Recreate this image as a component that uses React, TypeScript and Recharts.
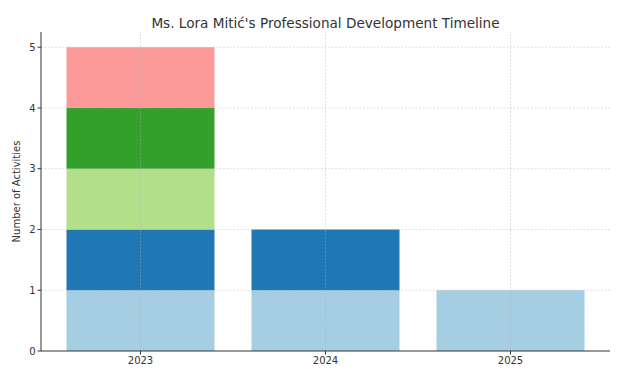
import React from 'react';
import { BarChart, Bar, XAxis, YAxis, ReferenceLine } from 'recharts';

const years = ['2023', '2024', '2025'];
// each stacked segment is one activity
const activity1 = [1, 1, 1];
const activity2 = [1, 1, 0];
const activity3 = [1, 0, 0];
const activity4 = [1, 0, 0];
const activity5 = [1, 0, 0];
const yTicks = [0, 1, 2, 3, 4, 5];

const seriesKeys = ['a1', 'a2', 'a3', 'a4', 'a5'];
const colors = ['#a6cee3', '#1f78b4', '#b2df8a', '#33a02c', '#fb9a99'];

const data = years.map((year, i) => ({
  year,
  a1: activity1[i],
  a2: activity2[i],
  a3: activity3[i],
  a4: activity4[i],
  a5: activity5[i],
}));

const font = "'DejaVu Sans', sans-serif";
const tickStyle = { fontSize: 10, fill: '#333', fontFamily: font };
const gridColor = '#b0b0b0';

const App: React.FC = () => {
  return (
    <div style={{ position: 'fixed', left: 0, top: 0, width: 632, height: 370, background: '#fff' }}>
      <div
        style={{
          position: 'absolute',
          left: 41,
          width: 569,
          top: 15,
          textAlign: 'center',
          fontFamily: font,
          fontSize: 13.6,
          color: '#333',
        }}
      >
        Ms. Lora Mitić's Professional Development Timeline
      </div>
      <BarChart
        width={632}
        height={370}
        data={data}
        margin={{ top: 32, right: 22, left: 0, bottom: 0 }}
        barCategoryGap="10%"
      >
        <XAxis
          dataKey="year"
          padding={{ left: 7, right: 7 }}
          height={19}
          tick={tickStyle}
          tickSize={3.5}
          tickMargin={2}
          stroke="#333"
          axisLine={{ stroke: '#333' }}
          tickLine={{ stroke: '#333' }}
        />
        <YAxis
          width={41}
          domain={[0, 5.25]}
          ticks={yTicks}
          allowDataOverflow
          tick={tickStyle}
          tickSize={3.5}
          tickMargin={2}
          stroke="#333"
          label={{
            value: 'Number of Activities',
            angle: -90,
            position: 'insideLeft',
            offset: 16,
            style: { fontSize: 10, fill: '#333', fontFamily: font, textAnchor: 'middle' },
          }}
        />
        {seriesKeys.map((key, i) => (
          <Bar key={key} dataKey={key} stackId="s" fill={colors[i]} isAnimationActive={false} />
        ))}
        {yTicks.slice(1).map((t) => (
          <ReferenceLine key={'y' + t} y={t} stroke={gridColor} strokeOpacity={0.5} strokeDasharray="2 1.5" strokeWidth={0.8} />
        ))}
        {years.map((y) => (
          <ReferenceLine key={'x' + y} x={y} stroke={gridColor} strokeOpacity={0.5} strokeDasharray="2 1.5" strokeWidth={0.8} />
        ))}
      </BarChart>
    </div>
  );
};

export default App;
